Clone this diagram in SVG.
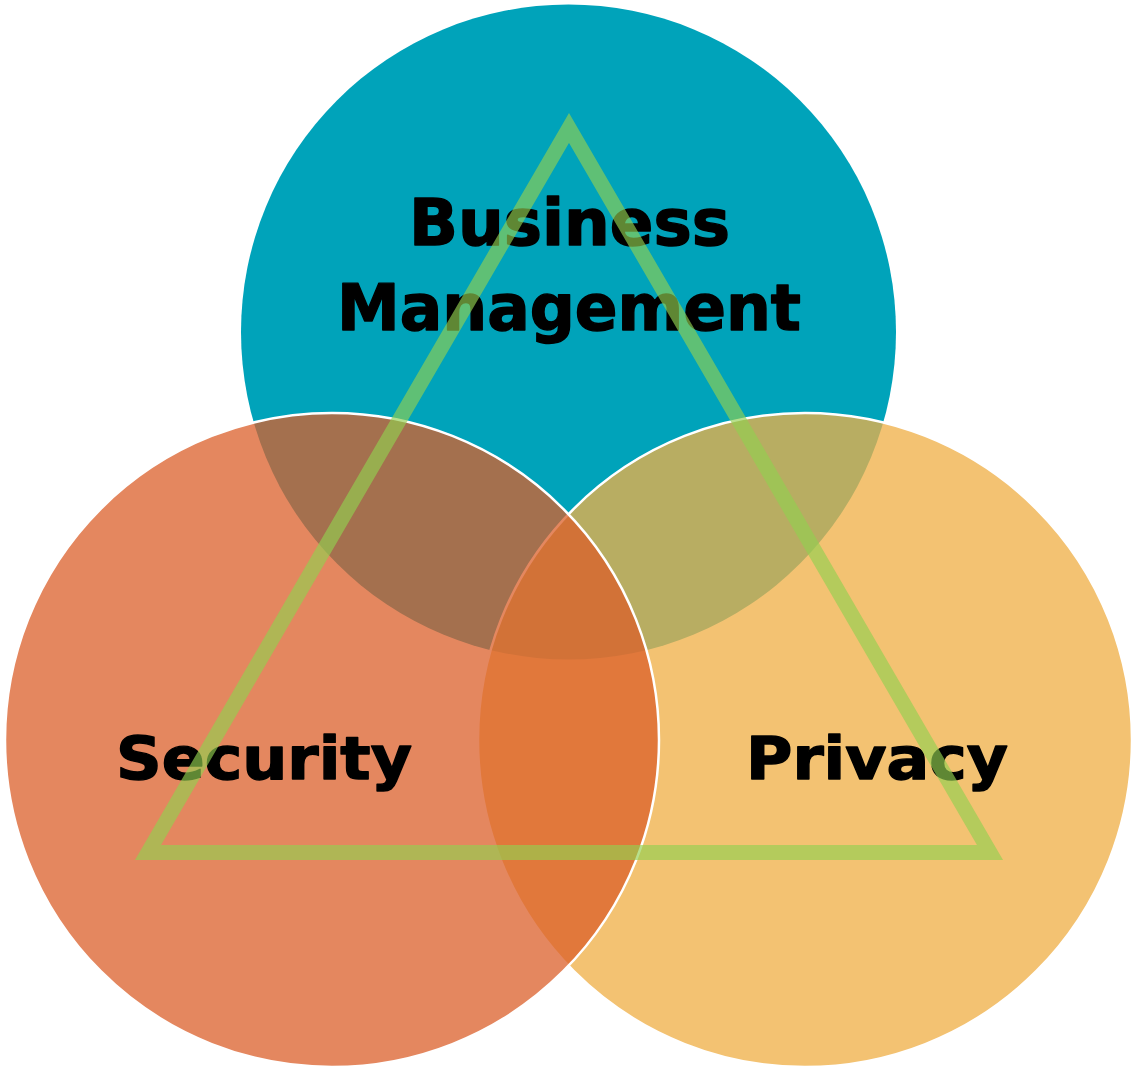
<svg xmlns="http://www.w3.org/2000/svg" width="1135" height="1071" viewBox="0 0 1135 1071">
  <style>
    .lbl { font-family: "DejaVu Sans", Verdana, sans-serif; font-weight: bold; fill: #000000; stroke: #000000; stroke-width: 1.4; stroke-linejoin: round; }
    .big { font-size: 64px; }
    .mid { font-size: 58px; }
  </style>
  <rect x="0" y="0" width="1135" height="1071" fill="#ffffff"/>
  <g id="business-management">
    <circle cx="568.5" cy="332" r="327.5" fill="#00A3BA"/>
    <text class="lbl big" x="409" y="245" textLength="321" lengthAdjust="spacingAndGlyphs">Business</text>
    <text class="lbl big" x="337" y="330" textLength="464" lengthAdjust="spacingAndGlyphs">Management</text>
  </g>
  <g id="privacy">
    <circle cx="805" cy="740" r="327" fill="#EFAF48" fill-opacity="0.77" stroke="#ffffff" stroke-width="2.5"/>
    <text class="lbl mid" x="746" y="779" textLength="262" lengthAdjust="spacingAndGlyphs">Privacy</text>
  </g>
  <g id="security">
    <circle cx="332" cy="740" r="327" fill="#DB5F2A" fill-opacity="0.75" stroke="#ffffff" stroke-width="2.5"/>
    <text class="lbl mid" x="116" y="779" textLength="296" lengthAdjust="spacingAndGlyphs">Security</text>
  </g>
  <g id="connectors">
    <polygon points="569,128 148,852.5 990,852.5" fill="none" stroke="#92D050" stroke-opacity="0.65" stroke-width="15" stroke-linejoin="miter"/>
  </g>
</svg>
